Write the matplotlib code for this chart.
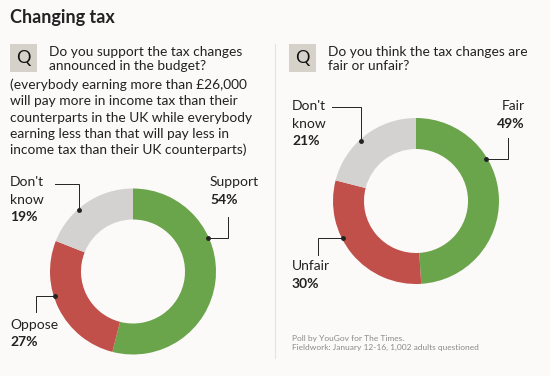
import matplotlib.pyplot as plt
import numpy as np

plt.rcParams['font.family'] = ['Lato', 'DejaVu Sans']

# data
left_labels = ["Support", "Oppose", "Don't\nknow"]
left_values = [54, 27, 19]
right_labels = ["Fair", "Unfair", "Don't\nknow"]
right_values = [49, 30, 21]
colors = ["#6ba54b", "#c1504b", "#d3d2d0"]

title = "Changing tax"
q1_first = "Do you support the tax changes\nannounced in the budget?"
q1_rest = ["(everybody earning more than £26,000",
           "will pay more in income tax than their",
           "counterparts in the UK while everybody",
           "earning less than that will pay less in",
           "income tax than their UK counterparts)"]
q2 = "Do you think the tax changes are\nfair or unfair?"
source = "Poll by YouGov for The Times.\nFieldwork: January 12-16, 1,002 adults questioned"

W, H = 550, 376
bg = "#fcfaf9"
ink = "#222222"

fig = plt.figure(figsize=(W / 100, H / 100), dpi=100, facecolor=bg)
ax = fig.add_axes([0, 0, 1, 1])
ax.set_facecolor(bg)


def Y(y):
    # pixel row (from top) to data y
    return H - y


R, RING = 83, 31
centers = [(133, Y(271.5)), (416, Y(201))]

for c, vals in zip(centers, [left_values, right_values]):
    ax.pie(vals, colors=colors, startangle=90, counterclock=False,
           radius=R, center=c, wedgeprops=dict(width=RING, linewidth=0))

ax.set_xlim(0, W)
ax.set_ylim(0, H)
ax.set_aspect('auto')
ax.axis('off')

# title
ax.text(10, Y(17), title, fontsize=13, fontweight='bold', color=ink, va='center')

# Q boxes
for x0 in [10, 289]:
    ax.add_patch(plt.Rectangle((x0, Y(72)), 27, 28, color="#d6d1c9", lw=0))
    ax.text(x0 + 13.5, Y(58), "Q", fontsize=13, color="#111111", ha='center', va='center')

# question text
ax.text(49, Y(46.5), q1_first, fontsize=9.9, color=ink, va='top', linespacing=1.17)
for i, line in enumerate(q1_rest):
    ax.text(10, Y(85 + i * 16.3), line, fontsize=9.9, color=ink, va='center')
ax.text(328, Y(46.5), q2, fontsize=9.9, color=ink, va='top', linespacing=1.17)

# divider
ax.plot([275, 275], [Y(44), Y(358)], color="#e6e3e1", lw=0.8)

# labels: (chart, index, angle of dot, text x, text top y, ha, leader points after dot)
label_specs = [
    (0, 0, 24, 210, 176, 'left', [(228, None), (228, 217)]),
    (0, 2, 131.5, 10, 176, 'left', [(None, 184), (55, 184)]),
    (0, 1, 197.5, 10, 319, 'left', [(36, None), (36, 312)]),
    (1, 0, 31, 525, 100, 'right', [(508, None), (508, 138)]),
    (1, 2, 132.5, 292, 100, 'left', [(None, 107), (332, 107)]),
    (1, 1, 206.6, 292, 260, 'left', [(318, None), (318, 255)]),
]

for chart, idx, ang, tx, ty, ha, pts in label_specs:
    labs = [left_labels, right_labels][chart]
    vals = [left_values, right_values][chart]
    cx, cy = centers[chart]
    a = np.deg2rad(ang)
    dx, dy = cx + (R - 1) * np.cos(a), cy + (R - 1) * np.sin(a)
    xs, ys = [dx], [dy]
    for px, py in pts:
        xs.append(dx if px is None else px)
        ys.append(dy if py is None else Y(py))
    ax.plot(xs, ys, color=ink, lw=0.7, solid_joinstyle='miter')
    ax.plot(dx, dy, 'o', color=ink, ms=2.5)
    lines = labs[idx].split("\n")
    for j, ln in enumerate(lines):
        ax.text(tx, Y(ty + j * 17.5), ln, fontsize=10, color=ink, ha=ha, va='top')
    ax.text(tx, Y(ty + len(lines) * 17.5), f"{vals[idx]}%", fontsize=10,
            fontweight='bold', color=ink, ha=ha, va='top')

ax.text(292, Y(343), source, fontsize=6, color="#8a8a8a", va='center', linespacing=1.35)

fig.savefig("out.png", dpi=100, facecolor=bg)
